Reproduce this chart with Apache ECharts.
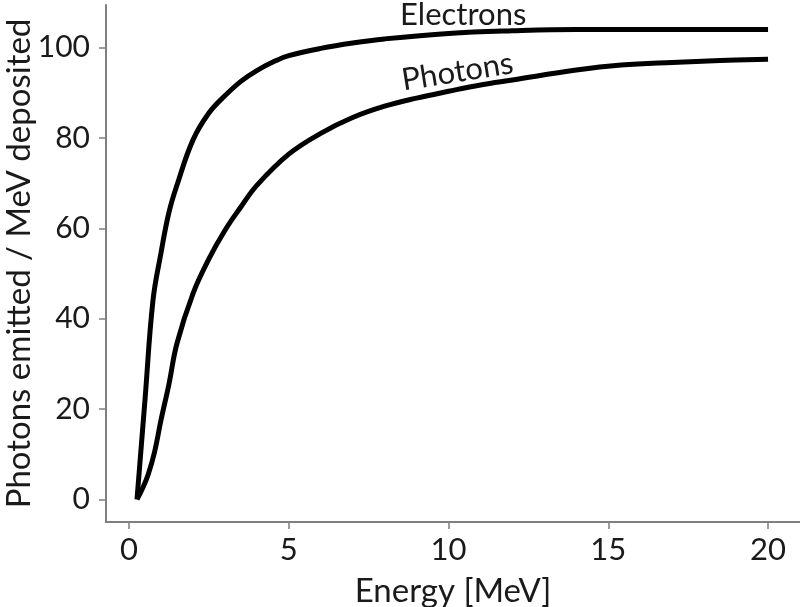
<!DOCTYPE html>
<html>
<head>
<meta charset="utf-8">
<script src="https://cdn.jsdelivr.net/npm/echarts@6/dist/echarts.min.js"></script>
<style>html,body{margin:0;padding:0;background:#fff;}#c{width:800px;height:607px;}</style>
</head>
<body>
<div id="c"></div>
<script>
const xTicks = [0, 5, 10, 15, 20];
const yTicks = [0, 20, 40, 60, 80, 100];
const electronsX = [0.25, 0.5, 0.75, 1.0, 1.25, 1.5, 2.0, 2.5, 3.0, 3.5, 4.0, 4.6, 5, 6, 7, 8, 10, 12, 14, 16, 18, 20];
const electronsY = [0, 22, 44, 54.5, 63.5, 69.5, 79.5, 85.5, 89.3, 92.5, 94.9, 97.1, 98.2, 99.8, 101, 101.9, 103.1, 103.7, 104, 104, 104, 104];
const photonsX = [0.25, 0.44, 0.6, 0.8, 1.0, 1.25, 1.5, 2.0, 2.5, 3.0, 3.5, 4.0, 5, 6, 7, 8, 9, 10, 11, 12, 14, 15.4, 17, 18.5, 20];
const photonsY = [0, 2.7, 5.5, 10.5, 17.5, 25.5, 34.5, 45.5, 53.2, 59.5, 64.7, 69.5, 76.4, 81, 84.5, 87, 88.8, 90.3, 91.7, 92.8, 95.0, 96.1, 96.7, 97.1, 97.4];
const labelNames = ['Electrons', 'Photons'];

const FONT = 'Lato';
const axisGray = '#7f7f7f';
const textCol = '#1a1a1a';

const chart = echarts.init(document.getElementById('c'));
function annot(coord, text, rot) {
  return {
    symbol: 'circle', symbolSize: 1, itemStyle: { color: 'rgba(0,0,0,0)' },
    data: [{ coord: coord, label: { show: true, formatter: text, fontFamily: FONT, fontSize: 31, color: textCol, position: 'inside', rotate: rot } }]
  };
}
chart.setOption({
  animation: false,
  grid: { left: 106, right: 0, top: 5, bottom: 85, containLabel: false, outerBoundsMode: 'none' },
  xAxis: {
    type: 'value', min: -0.72, max: 21,
    name: 'Energy [MeV]', nameLocation: 'middle', nameGap: 53, nameMoveOverlap: false,
    nameTextStyle: { fontFamily: FONT, fontSize: 33, color: textCol },
    axisLine: { show: true, onZero: false, lineStyle: { color: axisGray, width: 2 } },
    axisTick: { show: true, length: 7, customValues: xTicks, lineStyle: { color: axisGray, width: 1.5 } },
    axisLabel: { customValues: xTicks, fontFamily: FONT, fontSize: 31, color: textCol, margin: 12 },
    splitLine: { show: false }
  },
  yAxis: {
    type: 'value', min: -5, max: 109.4,
    name: 'Photons emitted / MeV deposited', nameLocation: 'middle', nameGap: 70, nameMoveOverlap: false,
    nameTextStyle: { fontFamily: FONT, fontSize: 33, color: textCol },
    axisLine: { show: true, onZero: false, lineStyle: { color: axisGray, width: 2 } },
    axisTick: { show: true, length: 7, customValues: yTicks, lineStyle: { color: axisGray, width: 1.5 } },
    axisLabel: { customValues: yTicks, fontFamily: FONT, fontSize: 30, color: textCol, margin: 16 },
    splitLine: { show: false }
  },
  series: [
    {
      name: labelNames[0], type: 'line', smooth: 0.4, showSymbol: false,
      data: electronsX.map((x, i) => [x, electronsY[i]]),
      lineStyle: { color: '#000', width: 5 },
      markPoint: annot([10.46, 107.2], labelNames[0], 0)
    },
    {
      name: labelNames[1], type: 'line', smooth: 0.4, showSymbol: false,
      data: photonsX.map((x, i) => [x, photonsY[i]]),
      lineStyle: { color: '#000', width: 5 },
      markPoint: annot([10.28, 94.6], labelNames[1], 9)
    }
  ]
});
</script>
</body>
</html>
